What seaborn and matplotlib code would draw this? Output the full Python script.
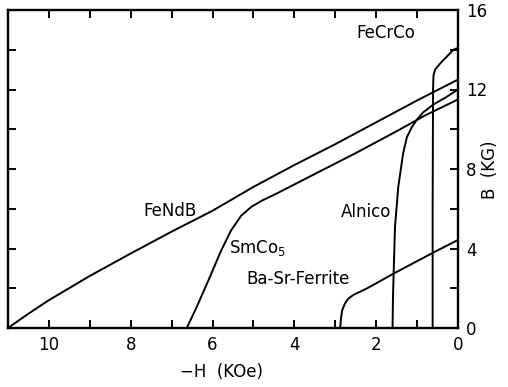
import matplotlib
matplotlib.use("Agg")
import matplotlib.pyplot as plt
from matplotlib.ticker import MultipleLocator
import seaborn as sns
import pandas as pd

# ---- data: -H (kOe) vs B (kG) ----
fendb_h = [11.0, 10.5, 10.0, 9.0, 8.0, 7.0, 6.0, 5.0, 4.0, 3.0, 2.0, 1.0, 0.0]
fendb_b = [0.0, 0.72, 1.40, 2.62, 3.75, 4.85, 5.90, 7.10, 8.20, 9.25, 10.35, 11.45, 12.5]

smco5_h = [6.63, 6.40, 6.10, 5.80, 5.55, 5.30, 5.05, 4.80, 4.40, 3.50, 2.50, 1.50, 0.80, 0.0]
smco5_b = [0.0, 1.00, 2.40, 3.85, 4.90, 5.65, 6.10, 6.40, 6.80, 7.75, 8.80, 9.90, 10.70, 11.5]

alnico_h = [1.60, 1.59, 1.57, 1.54, 1.46, 1.34, 1.25, 1.13, 1.00, 0.85, 0.60, 0.30, 0.0]
alnico_b = [0.0, 1.5, 3.0, 5.1, 7.1, 8.8, 9.6, 10.1, 10.5, 10.85, 11.25, 11.6, 12.0]

fecrco_h = [0.62, 0.62, 0.61, 0.60, 0.56, 0.44, 0.30, 0.11, 0.0]
fecrco_b = [0.0, 6.0, 12.0, 12.7, 13.0, 13.3, 13.6, 14.0, 14.1]

ferrite_h = [2.88, 2.86, 2.83, 2.76, 2.68, 2.56, 2.40, 2.20, 1.60, 0.60, 0.0]
ferrite_b = [0.0, 0.5, 0.9, 1.25, 1.48, 1.66, 1.82, 2.02, 2.71, 3.80, 4.43]

curves = {
    "FeNdB": (fendb_h, fendb_b),
    "SmCo5": (smco5_h, smco5_b),
    "Alnico": (alnico_h, alnico_b),
    "FeCrCo": (fecrco_h, fecrco_b),
    "Ba-Sr-Ferrite": (ferrite_h, ferrite_b),
}

x_major = [0, 2, 4, 6, 8, 10]
y_major = [0, 4, 8, 12, 16]

sns.set_style("ticks")
plt.rcParams["font.family"] = ["DejaVu Sans"]
plt.rcParams.update({"text.color": "black", "axes.labelcolor": "black",
                     "xtick.color": "black", "ytick.color": "black"})

fig = plt.figure(figsize=(5.08, 3.87), dpi=100)
ax = fig.add_axes([8 / 508, 1 - 328 / 387, 450 / 508, 318 / 387])

for name, (h, b) in curves.items():
    df = pd.DataFrame({"H": h, "B": b})
    sns.lineplot(data=df, x="H", y="B", sort=False, estimator=None,
                 color="black", linewidth=1.4, ax=ax)

ax.set_xlim(11, 0)
ax.set_ylim(0, 16)

ax.xaxis.set_minor_locator(MultipleLocator(1))
ax.yaxis.set_minor_locator(MultipleLocator(2))
ax.set_xticks(x_major)
ax.set_xticklabels([str(v) for v in x_major])
ax.set_yticks(y_major)
ax.set_yticklabels([str(v) for v in y_major])

ax.yaxis.tick_right()
ax.yaxis.set_label_position("right")
ax.tick_params(axis="both", which="both", direction="in",
               top=True, bottom=True, left=True, right=True,
               labelleft=False, labelright=True, labeltop=False, labelbottom=True,
               width=1.4, color="black", labelcolor="black")
ax.tick_params(axis="both", which="major", length=6, labelsize=12, pad=6)
ax.tick_params(axis="both", which="minor", length=6)

for s in ax.spines.values():
    s.set_linewidth(1.7)
    s.set_color("black")
    s.set_visible(True)

ax.set_xlabel("\u2212H  (KOe)", fontsize=12)
ax.set_ylabel("B  (KG)", fontsize=12)
ax.xaxis.set_label_coords((222 - 8) / 450, (328 - 372) / 318)
ax.yaxis.set_label_coords((490 - 8) / 450, (328 - 170) / 318)
ax.xaxis.label.set_va("center")
ax.yaxis.label.set_va("center")

tkw = dict(fontsize=12, color="black", ha="center", va="center")
ax.text(7.05, 5.9, "FeNdB", **tkw)
ax.text(4.9, 4.0, "SmCo$_5$", **tkw)
ax.text(2.25, 5.85, "Alnico", **tkw)
ax.text(3.92, 2.45, "Ba-Sr-Ferrite", **tkw)
ax.text(1.76, 14.85, "FeCrCo", **tkw)

fig.savefig("out.png", dpi=100)
